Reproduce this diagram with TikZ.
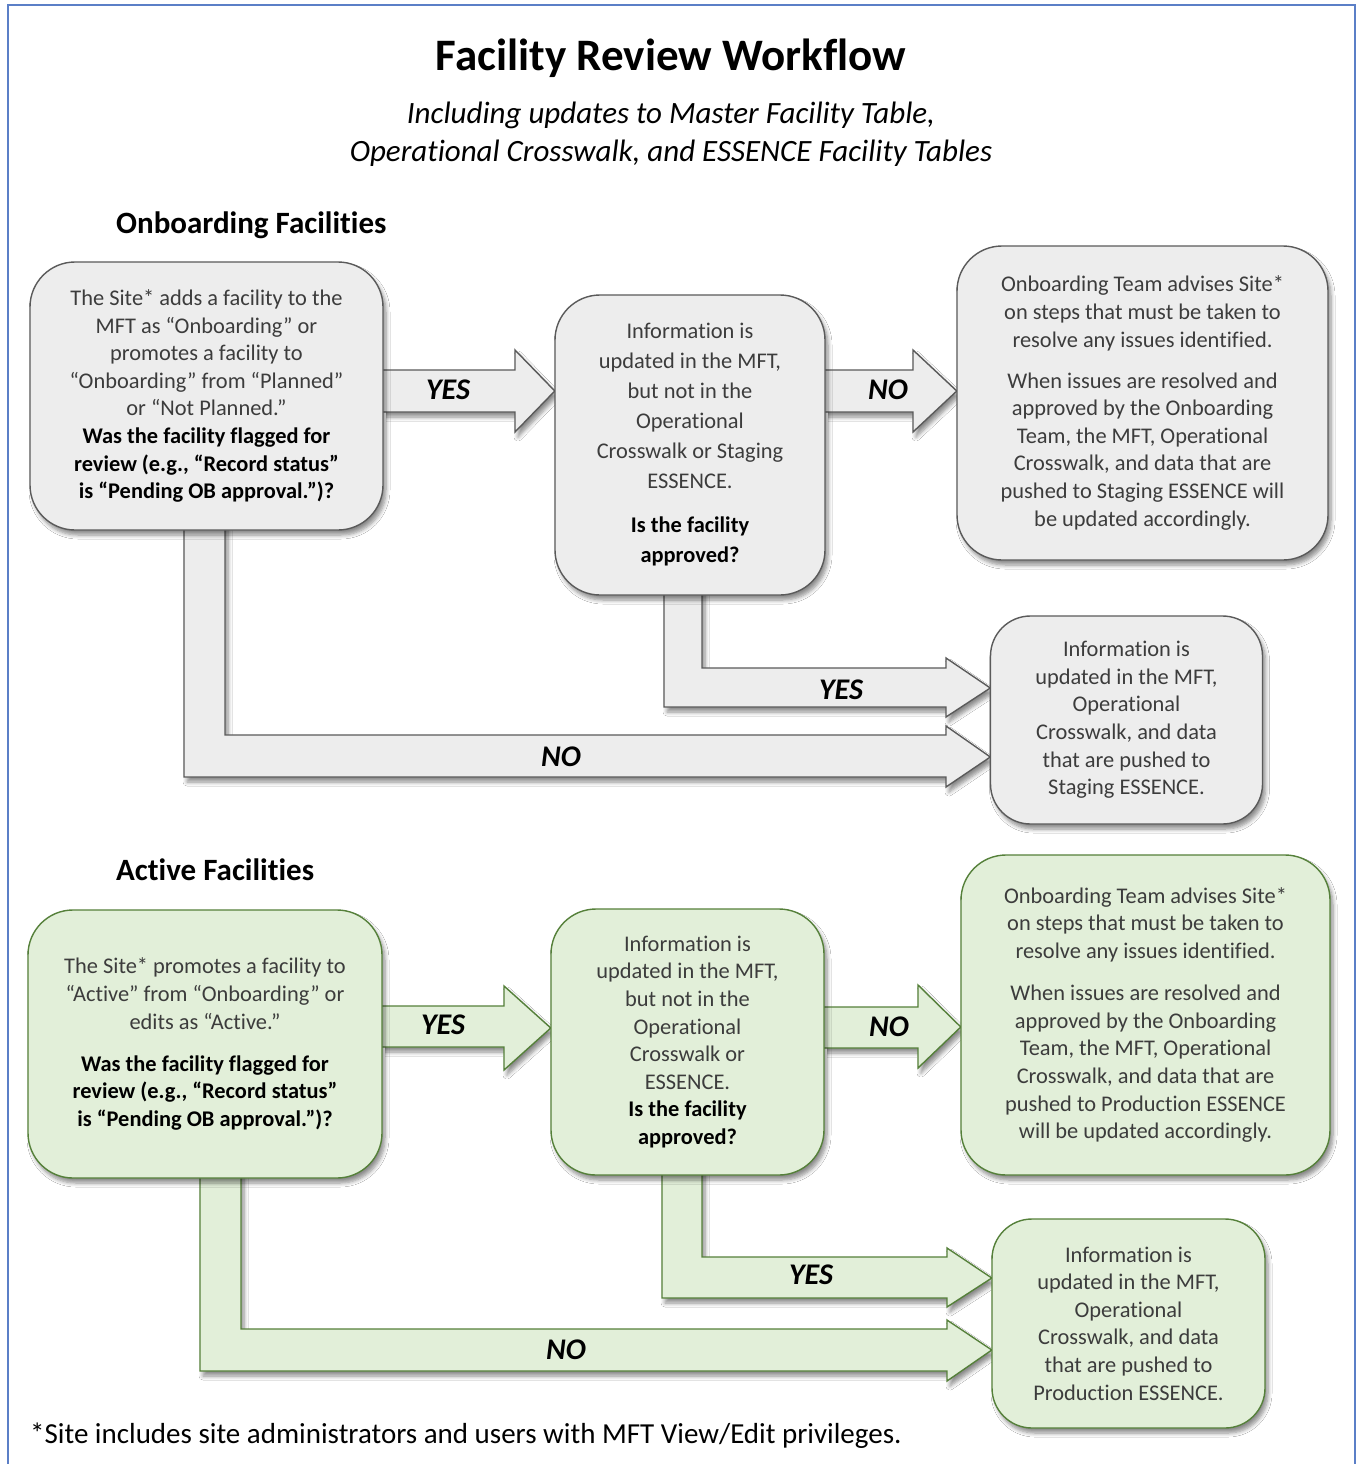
\documentclass[tikz,border=0pt]{standalone}
\usepackage{fontspec}
\setmainfont{Carlito}[Ligatures=NoCommon]
\usetikzlibrary{shadows,shadows.blur,calc}
\definecolor{frameblue}{HTML}{5B7FC7}
\definecolor{gfill}{HTML}{EDEDED}
\definecolor{gline}{HTML}{5A5A5A}
\definecolor{vfill}{HTML}{E2EFD9}
\definecolor{vline}{HTML}{55803A}
\definecolor{txt}{HTML}{3C3C3C}
\begin{document}
\begin{tikzpicture}[x=1pt,y=-1pt,
  sh/.style={blur shadow={shadow xshift=3pt,shadow yshift=-5pt,shadow blur radius=4pt,shadow blur steps=6,shadow opacity=45}},
  boxbase/.style={rectangle,rounded corners=45pt,line width=1.4pt,inner sep=0pt,align=center,text=txt,
     font=\fontsize{22.4}{27.6}\selectfont,sh},
  graybox/.style={boxbase,fill=gfill,draw=gline},
  greenbox/.style={boxbase,fill=vfill,draw=vline},
  grayarrow/.style={fill=gfill,draw=gline,line width=1.4pt,line join=miter,sh},
  greenarrow/.style={fill=vfill,draw=vline,line width=1.4pt,line join=miter,sh},
  lbl/.style={font=\fontsize{30}{30}\selectfont\bfseries\itshape,text=black,inner sep=0pt},
  head/.style={font=\fontsize{31}{34}\selectfont\bfseries,anchor=west,inner sep=0pt},
  anchorbox/.style={rectangle,inner sep=0pt}]
\useasboundingbox (0,0) rectangle (1358,1464);
\fill[white] (0,0) rectangle (1358,1464);
\draw[frameblue,line width=2pt] (8,1470) -- (8,5) -- (1355,5) -- (1355,1470);

% titles
\node[font=\fontsize{45}{45}\selectfont\bfseries,inner sep=0pt] (title) at (671,58) {Facility Review Workflow};
\node[font=\fontsize{31}{38}\selectfont\itshape,align=center,inner sep=0pt] (sub) at (671,134)
  {Including updates to Master Facility Table,\\Operational Crosswalk, and ESSENCE Facility Tables};
\node[head] (h1) at (116,225) {Onboarding Facilities};
\node[head] (h2) at (116,870) {Active Facilities};

% box centres
\path (206.5,396) coordinate (c1) (690,445) coordinate (c2) (1142.5,403) coordinate (c3) (1126.5,720) coordinate (c4);
\path (205,1044) coordinate (d1) (687.5,1042) coordinate (d2) (1145.5,1015) coordinate (d3) (1128.5,1323.5) coordinate (d4);

% anchor placeholders
\node[anchorbox,minimum width=353pt,minimum height=268pt] (b1) at (c1) {};
\node[anchorbox,minimum width=270pt,minimum height=300pt] (b2) at (c2) {};
\node[anchorbox,minimum width=371pt,minimum height=314pt] (b3) at (c3) {};
\node[anchorbox,minimum width=272pt,minimum height=208pt] (b4) at (c4) {};
\node[anchorbox,minimum width=354pt,minimum height=268pt] (a1) at (d1) {};
\node[anchorbox,minimum width=273pt,minimum height=266pt] (a2) at (d2) {};
\node[anchorbox,minimum width=369pt,minimum height=320pt] (a3) at (d3) {};
\node[anchorbox,minimum width=273pt,minimum height=209pt] (a4) at (d4) {};

% ---------- Onboarding arrows ----------
\draw[grayarrow] (b1.east |- 0,370) -- (515,370) -- (515,350) -- (b2.west |- 0,391) -- (515,432) -- (515,412) -- (b1.east |- 0,412);
\draw[grayarrow] (b2.east |- 0,370) -- (913,370) -- (913,350) -- (b3.west |- 0,391) -- (913,432) -- (913,412) -- (b2.east |- 0,412);
\draw[grayarrow] (664,560) -- (664,707) -- (946,707) -- (946,717) -- (b4.west |- 0,688) -- (946,658) -- (946,668) -- (702,668) -- (702,560);
\draw[grayarrow] (184,500) -- (184,777) -- (946,777) -- (946,787) -- (b4.west |- 0,757) -- (946,726) -- (946,735) -- (225,735) -- (225,500);

% ---------- Active arrows ----------
\draw[greenarrow] (a1.east |- 0,1006) -- (504,1006) -- (504,986) -- (a2.west |- 0,1028) -- (504,1070) -- (504,1047) -- (a1.east |- 0,1047);
\draw[greenarrow] (a2.east |- 0,1007) -- (918,1007) -- (918,985) -- (a3.west |- 0,1027) -- (918,1068) -- (918,1048) -- (a2.east |- 0,1048);
\draw[greenarrow] (662,1140) -- (662,1298) -- (947,1298) -- (947,1307) -- (a4.west |- 0,1278) -- (947,1248) -- (947,1257) -- (702,1257) -- (702,1140);
\draw[greenarrow] (200,1140) -- (200,1371) -- (947,1371) -- (947,1381) -- (a4.west |- 0,1350) -- (947,1320) -- (947,1329) -- (241,1329) -- (241,1140);

% ---------- boxes ----------
\node[graybox,minimum width=353pt,minimum height=268pt] at (c1) {The Site* adds a facility to the\\MFT as “Onboarding” or\\promotes a facility to\\“Onboarding” from “Planned”\\or “Not Planned.”\\
  \color{black}\bfseries Was the facility flagged for\\\color{black}\bfseries review (e.g., “Record status”\\\color{black}\bfseries is “Pending OB approval.”)?};
\node[graybox,minimum width=270pt,minimum height=300pt,font=\fontsize{22.4}{30}\selectfont] at (c2) {Information is\\updated in the MFT,\\but not in the\\Operational\\Crosswalk or Staging\\ESSENCE.\\[14pt]
  \color{black}\bfseries Is the facility\\\color{black}\bfseries approved?};
\node[graybox,minimum width=371pt,minimum height=314pt] at (c3) {Onboarding Team advises Site*\\on steps that must be taken to\\resolve any issues identified.\\[13.5pt]
  When issues are resolved and\\approved by the Onboarding\\Team, the MFT, Operational\\Crosswalk, and data that are\\pushed to Staging ESSENCE will\\be updated accordingly.};
\node[graybox,rounded corners=40pt,minimum width=272pt,minimum height=208pt] at (c4) {Information is\\updated in the MFT,\\Operational\\Crosswalk, and data\\that are pushed to\\Staging ESSENCE.};

\node[greenbox,minimum width=354pt,minimum height=268pt] at (d1) {The Site* promotes a facility to\\“Active” from “Onboarding” or\\edits as “Active.”\\[14.5pt]
  \color{black}\bfseries Was the facility flagged for\\\color{black}\bfseries review (e.g., “Record status”\\\color{black}\bfseries is “Pending OB approval.”)?};
\node[greenbox,minimum width=273pt,minimum height=266pt] at (d2) {Information is\\updated in the MFT,\\but not in the\\Operational\\Crosswalk or\\ESSENCE.\\
  \color{black}\bfseries Is the facility\\\color{black}\bfseries approved?};
\node[greenbox,minimum width=369pt,minimum height=320pt] at (d3) {Onboarding Team advises Site*\\on steps that must be taken to\\resolve any issues identified.\\[14.5pt]
  When issues are resolved and\\approved by the Onboarding\\Team, the MFT, Operational\\Crosswalk, and data that are\\pushed to Production ESSENCE\\will be updated accordingly.};
\node[greenbox,rounded corners=40pt,minimum width=273pt,minimum height=209pt] at (d4) {Information is\\updated in the MFT,\\Operational\\Crosswalk, and data\\that are pushed to\\Production ESSENCE.};

% ---------- labels ----------
\node[lbl] (l1) at (448,390) {YES};
\node[lbl] (l2) at (888,390) {NO};
\node[lbl] (l3) at (841,690) {YES};
\node[lbl] (l4) at (561,757) {NO};
\node[lbl] (l5) at (443,1025) {YES};
\node[lbl] (l6) at (889,1027) {NO};
\node[lbl] (l7) at (811,1275) {YES};
\node[lbl] (l8) at (566,1350) {NO};

% footer
\node[font=\fontsize{29}{29}\selectfont,anchor=west,inner sep=0pt] (foot) at (30,1436) {*Site includes site administrators and users with MFT View/Edit privileges.};
\end{tikzpicture}
\end{document}
